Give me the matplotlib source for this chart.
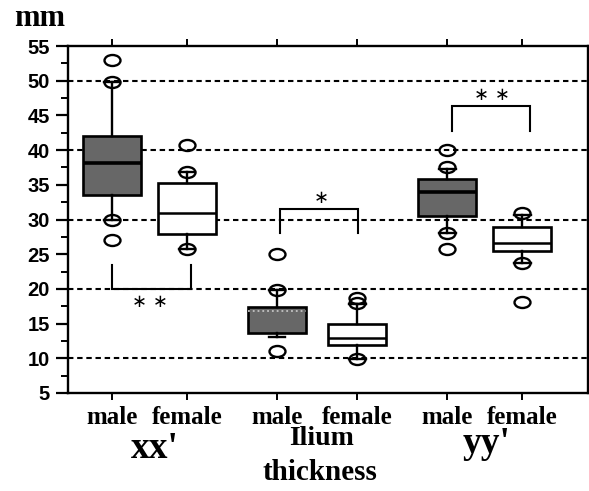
import matplotlib
matplotlib.use('Agg')
import matplotlib.pyplot as plt
import numpy as np
from matplotlib.path import Path
from matplotlib.markers import MarkerStyle
from matplotlib.transforms import Affine2D, blended_transform_factory
from matplotlib.ticker import MultipleLocator

# ---------------- data ----------------
groups = ["xx'", "Ilium", "yy'"]
sex_labels = ["male", "female", "male", "female", "male", "female"]
q1 = [33.6, 27.9, 13.7, 11.9, 30.5, 25.4]
medians = [38.1, 31.0, 16.8, 12.9, 34.0, 26.6]
q3 = [42.0, 35.2, 17.4, 14.9, 35.8, 28.9]
whisker_low = [29.9, 25.8, 13.0, 9.9, 28.1, 23.8]
whisker_high = [49.8, 36.9, 19.9, 17.8, 37.3, 30.6]
circles = [
    [53.0, 49.8, 29.9, 27.0],
    [40.8, 36.9, 25.8],
    [25.0, 19.9, 11.0],
    [18.7, 17.9, 9.9],
    [40.0, 37.6, 28.0, 25.8],
    [30.9, 23.8, 18.1],
]
sig_labels = ["**", "*", "**"]
bracket_bar = [20.0, 31.5, 46.4]
bracket_leg = [23.4, 28.1, 42.8]
sig_y = [18.1, 33.1, 47.9]
grid_values = [10, 20, 30, 40, 50]

# ---------------- figure ----------------
fig = plt.figure(figsize=(5.89, 4.91), dpi=100)
ax = fig.add_axes([68 / 589, 1 - 393 / 491, (587.5 - 68) / 589, (393 - 46) / 491])

positions = [1.0, 2.0, 3.2, 4.27, 5.47, 6.47]
ax.set_xlim(0.413, 7.34)
ax.set_ylim(5, 55)

for g in grid_values:
    ax.axhline(g, color='black', lw=1.5, ls=(0, (2.6, 1.8)), zorder=0.5)

ell = Path.unit_circle().transformed(Affine2D().scale(1.45, 1.0))
emark = MarkerStyle(ell)

stats = []
for i in range(len(positions)):
    stats.append(dict(med=medians[i], q1=q1[i], q3=q3[i],
                      whislo=whisker_low[i], whishi=whisker_high[i],
                      fliers=np.array(circles[i])))

bp = ax.bxp(stats, positions=positions, widths=0.77, capwidths=0.22,
            patch_artist=True, showfliers=True, manage_ticks=False,
            boxprops=dict(linewidth=1.9, edgecolor='black', facecolor='white'),
            whiskerprops=dict(linewidth=1.7, color='black'),
            capprops=dict(linewidth=1.7, color='black'),
            medianprops=dict(linewidth=1.8, color='black'),
            flierprops=dict(marker=emark, markersize=11.5, markerfacecolor='none',
                            markeredgecolor='black', markeredgewidth=1.7))
for i, patch in enumerate(bp['boxes']):
    patch.set_zorder(2)
    if sex_labels[i] == 'male':
        patch.set_facecolor('#676767')
        bp['medians'][i].set_linewidth(2.6)
for ln in bp['medians']:
    ln.set_zorder(3)
bp['medians'][2].set_color('#c4c4c4')
bp['medians'][2].set_linewidth(1.3)
bp['medians'][2].set_linestyle(':')
for ln in bp['fliers']:
    ln.set_zorder(4)

# significance brackets
bracket_x = [(1.0, 2.05), (3.24, 4.28), (5.53, 6.57)]
sig_x = [1.51, 3.79, 6.07]
for k in range(3):
    x0, x1 = bracket_x[k]
    ax.plot([x0, x0, x1, x1], [bracket_leg[k], bracket_bar[k], bracket_bar[k], bracket_leg[k]],
            color='black', lw=1.5, zorder=3, solid_joinstyle='miter')
    ax.text(sig_x[k], sig_y[k], " ".join(list(sig_labels[k])).replace('*', '\u2217'),
            ha='center', va='center', fontsize=13, family='DejaVu Sans', color='black')

# axes styling
for sp in ax.spines.values():
    sp.set_linewidth(1.7)
ax.yaxis.set_major_locator(MultipleLocator(5))
ax.yaxis.set_minor_locator(MultipleLocator(2.5))
ax.tick_params(axis='y', which='major', length=9, width=1.6, direction='out', pad=4,
               labelsize=14.5)
ax.tick_params(axis='y', which='minor', length=5, width=1.4, direction='out')
ax.set_xticks(positions)
ax.set_xticklabels(sex_labels)
ax.tick_params(axis='x', which='major', length=5, width=1.4, direction='out',
               top=True, pad=4, labelsize=18)
for lbl in ax.get_yticklabels():
    lbl.set_fontweight('bold')
    lbl.set_family('Liberation Sans')
for lbl in ax.get_xticklabels():
    lbl.set_fontweight('bold')
    lbl.set_family('Liberation Serif')

# group labels
tr = blended_transform_factory(ax.transData, fig.transFigure)
ax.text(1.57, 1 - 458 / 491, groups[0], transform=tr, ha='center', va='baseline',
        fontsize=27, fontweight='bold', family='Liberation Serif')
ax.text(3.79, 1 - 445 / 491, groups[1], transform=tr, ha='center', va='baseline',
        fontsize=20, fontweight='bold', family='Liberation Serif')
ax.text(3.77, 1 - 480 / 491, "thickness", transform=tr, ha='center', va='baseline',
        fontsize=21, fontweight='bold', family='Liberation Serif')
ax.text(6.0, 1 - 453 / 491, groups[2], transform=tr, ha='center', va='baseline',
        fontsize=27, fontweight='bold', family='Liberation Serif')

fig.text(14 / 589, 1 - 26 / 491, "mm", ha='left', va='baseline', fontsize=22,
         fontweight='bold', family='Liberation Serif')

fig.savefig('out.png', dpi=100)
